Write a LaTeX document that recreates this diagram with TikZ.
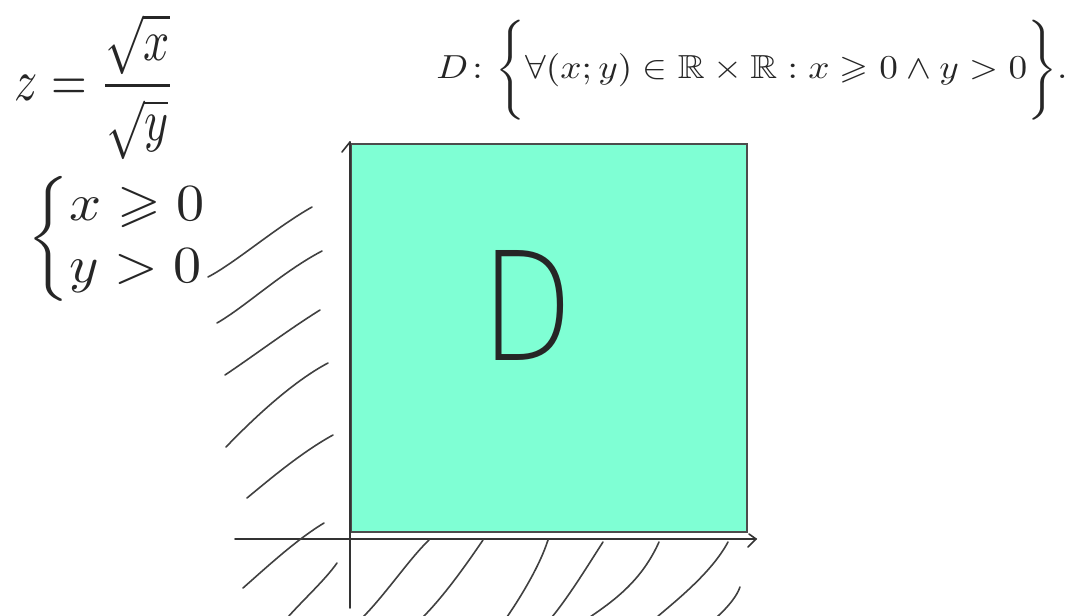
\documentclass[tikz,border=0pt]{standalone}
\usepackage{amsmath,amssymb}
\usepackage{fontspec}
\IfFontExistsTF{DejaVu Sans ExtraLight}
  {\newfontfamily\dfont{DejaVu Sans ExtraLight}}
  {\newcommand\dfont{\sffamily}}
\definecolor{aqua}{HTML}{7FFFD4}
\tikzset{
  hand/.style={line width=1.6pt, draw=black!75, line cap=round, line join=round},
  axisline/.style={line width=1.6pt, draw=black!80, line cap=round},
  txt/.style={inner sep=0pt, text=black!85}
}
\begin{document}
\begin{tikzpicture}[x=1pt,y=-1pt]
\useasboundingbox (0,0) rectangle (1072,616);
% domain square
\node[draw=black!70, line width=1.5pt, fill=aqua, minimum width=396pt, minimum height=388pt,
      anchor=north west, inner sep=0pt] (dom) at (350,143) {};
% letter D
\node[txt] (lab) at (528,305) {\resizebox*{92pt}{110pt}{\dfont D}};
% axes
\coordinate (xs) at (235,539); \coordinate (xe) at (756,539);
\coordinate (ys) at (350,608); \coordinate (ye) at (350,142);
\draw[axisline] (xs) -- (xe);
\draw[axisline] (ys) -- (ye);
\draw[axisline] (xe) ++(-7,-5) -- (xe) -- ++(-8,8);
\draw[axisline] (ye) -- ++(-8,10);
% left hatching
\draw[hand] (208,277) .. controls (235,263) and (275,228) .. (312,207);
\draw[hand] (217,323) .. controls (245,307) and (282,272) .. (322,251);
\draw[hand] (225,375) .. controls (252,357) and (288,330) .. (320,310);
\draw[hand] (226,447) .. controls (252,420) and (292,382) .. (328,363);
\draw[hand] (247,498) .. controls (270,479) and (302,452) .. (333,435);
\draw[hand] (243,588) .. controls (268,566) and (296,540) .. (324,523);
\draw[hand] (288,617) .. controls (305,598) and (325,580) .. (337,563);
% bottom hatching
\draw[hand] (363,617) .. controls (385,595) and (410,558) .. (429,540);
\draw[hand] (423,617) .. controls (445,595) and (468,562) .. (483,540);
\draw[hand] (507,617) .. controls (522,595) and (540,565) .. (548,540);
\draw[hand] (552,617) .. controls (570,595) and (590,562) .. (603,542);
\draw[hand] (590,617) .. controls (615,600) and (642,580) .. (659,542);
\draw[hand] (657,617) .. controls (677,600) and (712,572) .. (728,542);
\draw[hand] (717,617) .. controls (728,607) and (737,596) .. (740,587);
% formulas
\node[txt] (zdef) at (95,87) {\resizebox*{160pt}{146pt}{$z=\dfrac{\sqrt{x}}{\sqrt{y}}$}};
\node[txt] (cond) at (116,239) {\resizebox*{177pt}{125pt}{$\nulldelimiterspace=0pt\left\{\begin{array}{@{}l@{}}x\geqslant 0\\ y>0\end{array}\right.$}};
\node[txt] (dset) at (752,70) {\resizebox*{631pt}{100pt}{$D\colon\Bigg\{\forall(x;y)\in\mathbb{R}\times\mathbb{R}: x\geqslant 0\wedge y>0\Bigg\}.$}};
\end{tikzpicture}
\end{document}
